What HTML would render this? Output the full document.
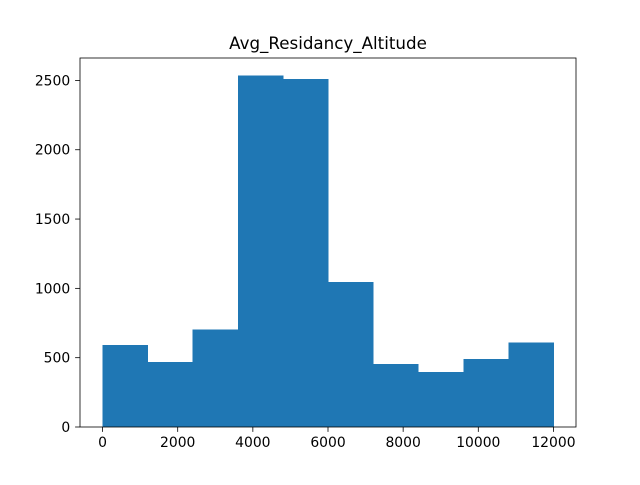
<!DOCTYPE html>
<html><head><meta charset="utf-8"><style>
body{margin:0;background:#fff;}
svg text{font-family:"DejaVu Sans","Liberation Sans",sans-serif;}
</style></head><body>
<svg id="chart" width="640" height="480">
<rect width="640" height="480" fill="#fff"/>
<text x="328" y="49" font-size="16.7" text-anchor="middle">Avg_Residancy_Altitude</text>
<g id="bars" shape-rendering="crispEdges"></g>
<g id="axes"></g>
</svg>
<script>
const binEdgesStart = [0,1200,2400,3600,4800,6000,7200,8400,9600,10800];
const binWidth = 1200;
const counts = [590,470,705,2535,2510,1045,455,395,490,610];
const xTicks = [0,2000,4000,6000,8000,10000,12000];
const yTicks = [0,500,1000,1500,2000,2500];

const L=80,R=576,T=58,B=427;
const xmin=-600,xmax=12600;
const ymax=Math.max(...counts)*1.05;
const sx=v=>L+(v-xmin)/(xmax-xmin)*(R-L);
const sy=v=>B-v/ymax*(B-T);
const NS="http://www.w3.org/2000/svg";
const bars=document.getElementById('bars');
counts.forEach((c,i)=>{
  const r=document.createElementNS(NS,'rect');
  const x0=sx(binEdgesStart[i]),x1=sx(binEdgesStart[i]+binWidth);
  r.setAttribute('x',x0);r.setAttribute('width',x1-x0+0.5);
  r.setAttribute('y',sy(c));r.setAttribute('height',B-sy(c));
  r.setAttribute('fill','#1f77b4');
  
  
  bars.appendChild(r);
});
const ax=document.getElementById('axes');
const frame=document.createElementNS(NS,'rect');
frame.setAttribute('x',L);frame.setAttribute('y',T);frame.setAttribute('width',R-L);frame.setAttribute('height',B-T);
frame.setAttribute('fill','none');frame.setAttribute('stroke','#000');frame.setAttribute('stroke-width','0.8');


ax.appendChild(frame);
xTicks.forEach(v=>{
  const x=sx(v);
  const l=document.createElementNS(NS,'line');
  l.setAttribute('x1',x);l.setAttribute('x2',x);l.setAttribute('y1',B);l.setAttribute('y2',B+4.9);
  l.setAttribute('stroke','#000');l.setAttribute('stroke-width','0.8');
  
  
  ax.appendChild(l);
  const t=document.createElementNS(NS,'text');
  t.setAttribute('x',x);t.setAttribute('y',B+20);t.setAttribute('font-size','13.9');t.setAttribute('text-anchor','middle');
  t.textContent=v;
  
  
  ax.appendChild(t);
});
yTicks.forEach(v=>{
  const y=sy(v);
  const l=document.createElementNS(NS,'line');
  l.setAttribute('x1',L-4.9);l.setAttribute('x2',L);l.setAttribute('y1',y);l.setAttribute('y2',y);
  l.setAttribute('stroke','#000');l.setAttribute('stroke-width','0.8');
  
  
  ax.appendChild(l);
  const t=document.createElementNS(NS,'text');
  t.setAttribute('x',L-9.8);t.setAttribute('y',y+5);t.setAttribute('font-size','13.9');t.setAttribute('text-anchor','end');
  t.textContent=v;
  
  
  ax.appendChild(t);
});
</script>
</body></html>
